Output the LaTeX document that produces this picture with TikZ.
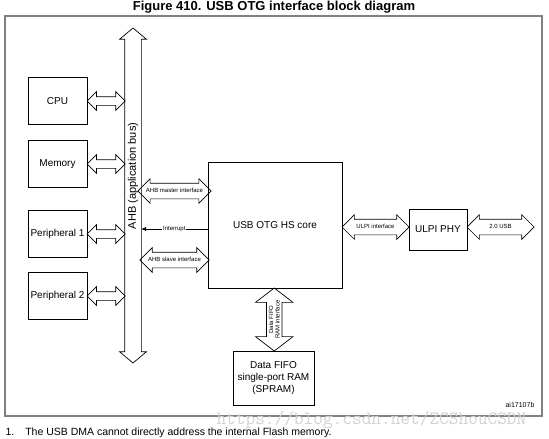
\documentclass[tikz,border=0pt]{standalone}
\usepackage{fontspec}
\setmainfont{Liberation Sans}
\usetikzlibrary{calc}
\usetikzlibrary{positioning}
\usetikzlibrary{shapes.arrows}
\usetikzlibrary{arrows.meta}
\newcommand{\tinylabel}{\fontsize{6}{6.5}\selectfont}
\newcommand{\boxlabel}{\fontsize{10}{12}\selectfont}

\begin{document}
\begin{tikzpicture}[x=1pt, y=-1pt,
  blockbox/.style={draw, line width=0.7pt, inner sep=0pt, align=center, font=\boxlabel},
  fatarrow/.style={draw, line width=0.7pt, double arrow, inner xsep=0pt, inner ysep=#1,
    text height=4pt, text depth=1pt, double arrow tip angle=90, font=\tinylabel}]
\useasboundingbox (0,0) rectangle (549,439);
\node[font=\bfseries\fontsize{13}{15}\selectfont] (title) at (274,7) {Figure 410. USB OTG interface block diagram};
\draw[gray, line width=1.2pt] (5,16) rectangle (542,416);

% masters and slaves on the left
\node[blockbox, minimum width=59pt, minimum height=47pt] (cpu) at (57.5,101) {CPU};
\node[blockbox, minimum width=59pt, minimum height=47pt] (mem) at (57.5,164) {Memory};
\node[blockbox, minimum width=59pt, minimum height=47pt] (per1) at (57.5,234) {Peripheral 1};
\node[blockbox, minimum width=59pt, minimum height=47pt] (per2) at (57.5,296) {Peripheral 2};

% the bus
\node[fatarrow=5.5pt, rotate=90, minimum height=335pt,
  double arrow head extend=5pt, double arrow tip angle=100] (bus) at (133,195.5) {};
\node[rotate=90, font=\fontsize{11}{13}\selectfont] (busname) at (133,176) {AHB (application bus)};
\coordinate (busL) at (125,0);
\coordinate (busR) at (141,0);

\foreach \b in {cpu,mem,per1,per2} {
  \node[fatarrow=1.5pt, minimum height=38pt, double arrow head extend=5pt]
    (\b link) at ($(\b.east)!0.5!(busL |- \b.east)$) {};
}

% the core
\node[blockbox, minimum width=134pt, minimum height=126pt] (core) at (275,225) {USB OTG HS core};

\node[fatarrow=5pt, minimum height=67pt, double arrow head extend=4.5pt]
  (master) at (174.5,191) {AHB master interface};
\coordinate (intsrc) at (core.west |- 0,229);
\draw[line width=0.7pt, -{Latex[length=5pt,width=4pt]}] (intsrc) -- node[fill=white, inner sep=1pt, font=\tinylabel] (intlabel) {Interrupt} (busR |- intsrc);
\node[fatarrow=5pt, minimum height=67pt, double arrow head extend=4.5pt]
  (slave) at (174.5,260) {AHB slave interface};

% ULPI side
\node[blockbox, minimum width=58pt, minimum height=41pt] (phy) at (438,229.5) {ULPI PHY};
\node[fatarrow=5pt, minimum height=67pt, double arrow head extend=4.5pt]
  (ulpi) at ($(core.east |- 0,227)!0.5!(phy.west |- 0,227)$) {ULPI interface};
\node[fatarrow=5pt, minimum height=67pt, double arrow head extend=4.5pt]
  (usb) at (500.5,227) {2.0 USB};

% FIFO RAM
\node[blockbox, minimum width=81pt, minimum height=54pt] (fifo) at (273.5,378) {Data FIFO\\single-port RAM\\(SPRAM)};
\node[draw, line width=0.7pt, double arrow, rotate=90, inner xsep=0pt, inner ysep=2pt,
  align=center, font=\tinylabel, minimum height=63pt,
  double arrow head extend=11pt, double arrow tip angle=105] (fifolink) at ($(core.south)!0.5!(fifo.north)$) {Data FIFO\\RAM interface};

\node[font=\fontsize{7}{8}\selectfont] (code) at (520,405) {ai17107b};
\node[anchor=west, text=gray!35, font=\ttfamily\fontsize{18.8}{19}\selectfont] (mark) at (213,420) {https://blog.csdn.net/ZCShouCSDN};
\node[anchor=west, font=\fontsize{10.5}{12}\selectfont] (note) at (2,433) {1.\hspace{11pt}The USB DMA cannot directly address the internal Flash memory.};
\end{tikzpicture}
\end{document}
